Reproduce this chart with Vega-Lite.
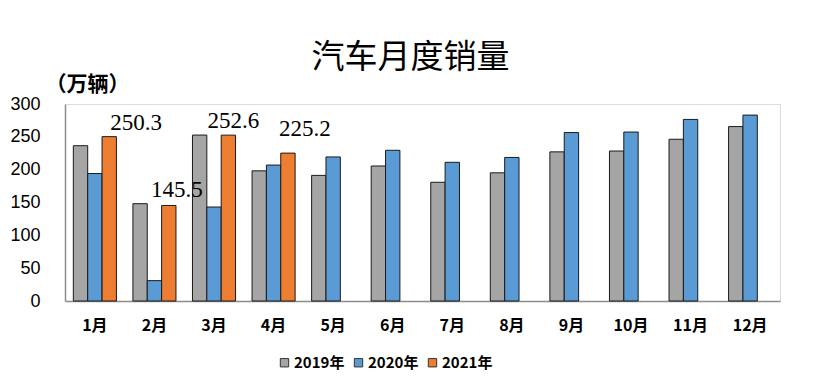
{
  "$schema": "https://vega.github.io/schema/vega-lite/v6.json",
  "autosize": {"type": "none"},
  "padding": {"left": 65, "top": 104, "right": 40, "bottom": 88},
  "width": 715,
  "height": 197,
  "background": "white",
  "title": {
    "text": "汽车月度销量",
    "font": "Noto Sans CJK SC",
    "fontSize": 33,
    "fontWeight": "normal",
    "color": "#000",
    "anchor": "middle",
    "frame": "group",
    "dy": 6,
    "dx": -12
  },
  "data": {
    "values": [
      {"month": "1月", "year": "2019年", "value": 236.5},
      {"month": "2月", "year": "2019年", "value": 148.2},
      {"month": "3月", "year": "2019年", "value": 252.7},
      {"month": "4月", "year": "2019年", "value": 198.2},
      {"month": "5月", "year": "2019年", "value": 191.3},
      {"month": "6月", "year": "2019年", "value": 205.6},
      {"month": "7月", "year": "2019年", "value": 180.8},
      {"month": "8月", "year": "2019年", "value": 195.2},
      {"month": "9月", "year": "2019年", "value": 227.1},
      {"month": "10月", "year": "2019年", "value": 228.4},
      {"month": "11月", "year": "2019年", "value": 246.3},
      {"month": "12月", "year": "2019年", "value": 265.6},
      {"month": "1月", "year": "2020年", "value": 194.1},
      {"month": "2月", "year": "2020年", "value": 31.0},
      {"month": "3月", "year": "2020年", "value": 143.1},
      {"month": "4月", "year": "2020年", "value": 207.0},
      {"month": "5月", "year": "2020年", "value": 219.4},
      {"month": "6月", "year": "2020年", "value": 229.5},
      {"month": "7月", "year": "2020年", "value": 211.2},
      {"month": "8月", "year": "2020年", "value": 218.6},
      {"month": "9月", "year": "2020年", "value": 256.5},
      {"month": "10月", "year": "2020年", "value": 257.3},
      {"month": "11月", "year": "2020年", "value": 276.5},
      {"month": "12月", "year": "2020年", "value": 283.1},
      {"month": "1月", "year": "2021年", "value": 250.3},
      {"month": "2月", "year": "2021年", "value": 145.5},
      {"month": "3月", "year": "2021年", "value": 252.6},
      {"month": "4月", "year": "2021年", "value": 225.2}
    ]
  },
  "encoding": {
    "x": {
      "field": "month",
      "type": "nominal",
      "sort": ["1月","2月","3月","4月","5月","6月","7月","8月","9月","10月","11月","12月"],
      "scale": {"paddingInner": 0.277, "paddingOuter": 0.14},
      "axis": {
        "title": null,
        "labelAngle": 0,
        "ticks": false,
        "domainColor": "#8c8c8c",
        "domainWidth": 1.5,
        "labelFont": "Noto Sans CJK SC",
        "labelFontSize": 16,
        "labelFontWeight": "bold",
        "labelColor": "#000",
        "labelPadding": 16
      }
    },
    "xOffset": {
      "field": "year",
      "type": "nominal",
      "scale": {"domain": ["2019年", "2020年", "2021年"], "paddingInner": 0, "paddingOuter": 0}
    },
    "y": {
      "field": "value",
      "type": "quantitative",
      "scale": {"domain": [0, 300], "nice": false},
      "axis": {
        "title": "（万辆）",
        "titleAngle": 0,
        "titleFont": "Noto Sans CJK SC",
        "titleFontSize": 21,
        "titleFontWeight": "bold",
        "titleColor": "#000",
        "titleAlign": "left",
        "titleBaseline": "alphabetic",
        "titleX": -20,
        "titleY": -14,
        "values": [0, 50, 100, 150, 200, 250, 300],
        "grid": false,
        "ticks": false,
        "domainColor": "#8c8c8c",
        "domainWidth": 1.5,
        "labelFont": "Liberation Sans",
        "labelFontSize": 18,
        "labelFontWeight": "normal",
        "labelColor": "#000",
        "labelPadding": 25
      }
    }
  },
  "layer": [
    {
      "mark": {"type": "bar", "stroke": "#1a1a1a", "strokeWidth": 1},
      "encoding": {
        "color": {
          "field": "year",
          "type": "nominal",
          "scale": {"domain": ["2019年", "2020年", "2021年"], "range": ["#A5A5A5", "#5B9BD5", "#ED7D31"]},
          "legend": {
            "title": null,
            "orient": "none",
            "direction": "horizontal",
            "legendX": 212,
            "legendY": 251,
            "symbolType": "square",
            "symbolSize": 70,
            "symbolStrokeColor": "#333",
            "symbolStrokeWidth": 1,
            "labelFont": "Noto Sans CJK SC",
            "labelFontSize": 15,
            "labelFontWeight": "bold",
            "labelColor": "#000",
            "labelOffset": 2,
            "columnPadding": 6
          }
        }
      }
    },
    {
      "transform": [{"filter": "datum.month === '1月' && datum.year === '2021年'"}],
      "mark": {"type": "text", "font": "Liberation Serif", "fontSize": 23, "baseline": "alphabetic", "dx": 27, "dy": -7, "color": "#000"},
      "encoding": {"text": {"field": "value", "type": "quantitative", "format": ".1f"}}
    },
    {
      "transform": [{"filter": "datum.month === '2月' && datum.year === '2021年'"}],
      "mark": {"type": "text", "font": "Liberation Serif", "fontSize": 23, "baseline": "alphabetic", "dx": 8, "dy": -8, "color": "#000"},
      "encoding": {"text": {"field": "value", "type": "quantitative", "format": ".1f"}}
    },
    {
      "transform": [{"filter": "datum.month === '3月' && datum.year === '2021年'"}],
      "mark": {"type": "text", "font": "Liberation Serif", "fontSize": 23, "baseline": "alphabetic", "dx": 5, "dy": -7, "color": "#000"},
      "encoding": {"text": {"field": "value", "type": "quantitative", "format": ".1f"}}
    },
    {
      "transform": [{"filter": "datum.month === '4月' && datum.year === '2021年'"}],
      "mark": {"type": "text", "font": "Liberation Serif", "fontSize": 23, "baseline": "alphabetic", "dx": 17, "dy": -17, "color": "#000"},
      "encoding": {"text": {"field": "value", "type": "quantitative", "format": ".1f"}}
    }
  ]
}
